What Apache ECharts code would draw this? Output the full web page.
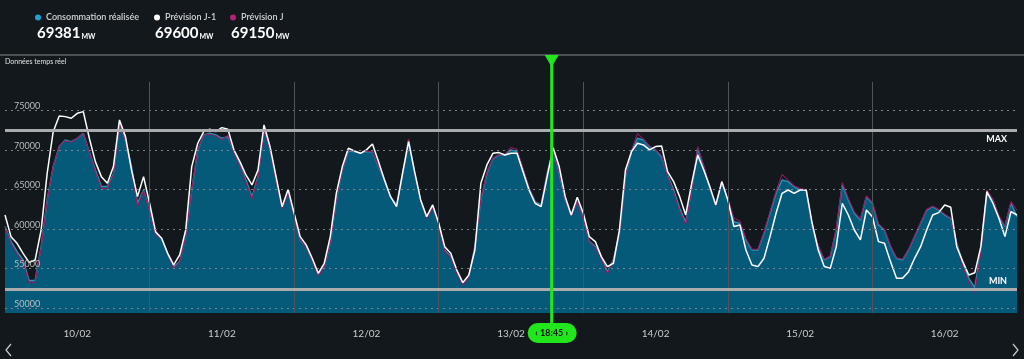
<!DOCTYPE html>
<html>
<head>
<meta charset="utf-8">
<script src="https://cdn.jsdelivr.net/npm/echarts@6/dist/echarts.min.js"></script>
<style>
html,body{margin:0;padding:0;background:#12181b;}
#c{width:1024px;height:359px;}
</style>
</head>
<body>
<div id="c"></div>
<script>
// ---- data (hourly, 10/02 00:00 -> 17/02 00:00) ----
const seriesNames = ['Consommation réalisée', 'Prévision J-1', 'Prévision J'];
const dayLabels = ['10/02', '11/02', '12/02', '13/02', '14/02', '15/02', '16/02'];
const gridValues = [50000, 55000, 60000, 65000, 70000, 75000];
const maxLevel = 72470;
const minLevel = 52400;
const cursorHour = 90.75;
const cursorLabel = '18:45';
const cursorValues = [69381, 69600, 69150];

const consumption = [
  60330, 58430, 57160, 56110, 53500, 53500, 57800, 63700, 67920, 70450, 71290, 71080, 71500, 72130, 69810, 67490, 65390, 65390, 67000, 73400, 71290, 67920, 63280, 64960,
  62430, 59480, 58850, 56950, 55200, 55900, 59060, 64960, 70030, 71920, 72130, 71920, 71500, 71710, 69810, 68130, 66230, 64120, 66650, 72550, 70240, 66230, 62850, 64750,
  61800, 58640, 57800, 56110, 54300, 55270, 58220, 63700, 67490, 69900, 69810, 69600, 69810, 69810, 67920, 66230, 64120, 63070, 67070, 71300, 67070, 63700, 61590, 62850,
  60750, 57370, 56530, 54630, 53160, 54000, 57800, 63700, 67070, 68970, 69390, 69390, 70030, 69810, 67490, 65180, 63490, 63070, 67070, 70030, 67070, 63700, 61800, 63490,
  61380, 58430, 57800, 56320, 54630, 56110, 59480, 66650, 69810, 71500, 71290, 70450, 70030, 69180, 66860, 64960, 62640, 60900, 64960, 70240, 67920, 65180, 63070, 66020,
  63700, 60960, 60750, 58640, 57370, 57370, 59480, 62010, 64540, 66230, 66020, 65390, 64960, 64960, 60330, 57800, 56110, 56530, 59900, 65600, 63700, 62010, 61170, 64120,
  63280, 60540, 59900, 57790, 56320, 56110, 57370, 59060, 60750, 62430, 62850, 62430, 61800, 61380, 58220, 55690, 53790, 52600, 57370, 64540, 63700, 61590, 60330, 63280,
  61590
];

const forecastJ1 = [
  61800, 59060, 58220, 56950, 55800, 56100, 59900, 67070, 72340, 74330, 74240, 74030, 74660, 74870, 71500, 68550, 66650, 65810, 67920, 73820, 71710, 67500, 64120, 66650,
  63280, 59690, 58850, 56950, 55480, 56740, 59900, 67920, 70870, 72340, 72640, 72340, 72850, 72640, 70030, 68550, 66860, 65600, 67490, 73190, 70450, 66650, 62850, 65050,
  62010, 59060, 58010, 56320, 54420, 55690, 59060, 64540, 67920, 70240, 69900, 69600, 70030, 70780, 68550, 66230, 64120, 62850, 67070, 71080, 67280, 63700, 61590, 63070,
  60750, 57790, 56950, 54840, 53240, 54210, 57370, 65810, 68130, 69600, 69690, 69390, 69600, 69600, 67280, 64960, 63280, 62850, 66650, 70300, 67920, 64120, 61800, 64040,
  62010, 59060, 58430, 56530, 55270, 55690, 59900, 67490, 69810, 70870, 70660, 70030, 70450, 70530, 67280, 66020, 64120, 61800, 65810, 69390, 67490, 65390, 63070, 66020,
  63700, 60330, 60540, 57370, 55480, 55270, 56320, 59060, 62010, 64540, 64960, 64540, 64960, 64960, 60750, 57370, 55270, 55050, 57790, 63280, 61800, 59900, 58640, 62430,
  61590, 58430, 58220, 55900, 53790, 53790, 54630, 56320, 57790, 59900, 61800, 62100, 63070, 62770, 57790, 55900, 54210, 54500, 57790, 64750, 63280, 61380, 59060, 62220,
  61800
];

const forecastJ = [
  60330, 58130, 56860, 55810, 53200, 53300, 57600, 63600, 67900, 70450, 71200, 71000, 71500, 72130, 69700, 67240, 65140, 65140, 66900, 73300, 71200, 67520, 62880, 64800,
  62300, 59300, 58800, 56950, 55000, 55800, 59060, 65000, 70100, 71920, 72000, 71800, 71300, 71900, 69700, 68000, 65900, 63820, 66500, 72300, 70100, 66100, 62600, 64600,
  61700, 58700, 57700, 56000, 54100, 55200, 58300, 63800, 67500, 70000, 69900, 69600, 69900, 69800, 68000, 66300, 64100, 62900, 67100, 71400, 67000, 63600, 61400, 62700,
  60600, 57200, 56400, 54400, 52950, 53900, 57700, 63800, 67200, 69000, 69400, 69500, 70330, 70100, 67700, 65200, 63400, 62900, 67000, 70000, 67200, 63800, 61700, 63500,
  61300, 58300, 57700, 56200, 54400, 56000, 59500, 66800, 70000, 72100, 71400, 70500, 70000, 69300, 66700, 64660, 62340, 60600, 65000, 70440, 68000, 65300, 63000, 66100,
  63900, 61460, 61000, 58800, 57470, 57470, 59600, 62200, 64800, 66930, 66200, 65500, 65160, 65000, 60500, 58000, 56200, 56600, 60100, 65900, 63900, 62200, 61300, 64200,
  63400, 60700, 60000, 57900, 56400, 56200, 57400, 59100, 60800, 62500, 62900, 62500, 61900, 61400, 58100, 55300, 53200, 52000, 57000, 64940, 63800, 61700, 60400, 63480,
  62400
];

const colors = { cons: '#1fa3d6', consArea: '#065a79', consEdge: '#2c90b1', j1: '#ffffff', j: '#8f1a62', green: '#22e61c' };
const FONT = 'Lato, "Open Sans", sans-serif';

const toXY = arr => arr.map((v, i) => [i, v]);

const chart = echarts.init(document.getElementById('c'), null, { renderer: 'canvas' });

const gridMarks = gridValues.map(v => ({
  yAxis: v,
  lineStyle: { color: '#7d8286', width: 1, type: [2, 4] },
  label: { show: true, position: 'insideStartTop', formatter: String(v), color: '#b9bdc0', fontSize: 9, fontFamily: FONT, distance: [9, 0] }
}));
const dayMarks = [1, 2, 3, 4, 5, 6].map(d => ({
  xAxis: d * 24,
  lineStyle: { color: '#4e5457', width: 1, type: 'solid' },
  label: { show: false }
}));
const levelMarks = [
  { yAxis: maxLevel, lineStyle: { color: '#a9abad', width: 3, type: 'solid' },
    label: { show: true, position: 'insideEndBottom', formatter: 'MAX', color: '#ffffff', fontWeight: 'bold', fontSize: 9, fontFamily: FONT, distance: [10, 4] } },
  { yAxis: minLevel, lineStyle: { color: '#a9abad', width: 3, type: 'solid' },
    label: { show: true, position: 'insideEndTop', formatter: 'MIN', color: '#ffffff', fontWeight: 'bold', fontSize: 9, fontFamily: FONT, distance: [10, 4] } }
];

const legendLefts = [35, 154, 230];
const valueLefts = [37, 155, 231];

chart.setOption({
  backgroundColor: '#12181b',
  animation: false,
  textStyle: { fontFamily: FONT },
  legend: seriesNames.map((n, i) => ({
    data: [n], left: legendLefts[i], top: 13, padding: 0, icon: 'circle', itemWidth: 6, itemHeight: 6,
    selectedMode: false,
    textStyle: { color: '#d2d5d7', fontSize: 9, fontWeight: 600, fontFamily: FONT }
  })),
  title: cursorValues.map((v, i) => ({
    left: valueLefts[i], top: 26, padding: 0,
    text: '{v|' + v + '}{u|MW}',
    textStyle: { rich: {
      v: { fontSize: 15, fontWeight: 'bold', color: '#ffffff', fontFamily: FONT },
      u: { fontSize: 7, fontWeight: 'bold', color: '#ffffff', fontFamily: FONT, verticalAlign: 'bottom', padding: [0, 0, 1, 1] }
    } }
  })),
  grid: { left: 5, right: 7, top: 82, bottom: 46 },
  xAxis: {
    type: 'value', min: 0, max: 168, interval: 12,
    axisLine: { show: false }, axisTick: { show: false }, splitLine: { show: false },
    axisLabel: {
      color: '#c9ccce', fontSize: 10, fontFamily: FONT, margin: 16,
      formatter: v => (v % 24 === 12 ? dayLabels[(v - 12) / 24] : '')
    }
  },
  yAxis: {
    type: 'value', min: 49400, max: 78620,
    axisLine: { show: false }, axisTick: { show: false }, splitLine: { show: false }, axisLabel: { show: false }
  },
  series: [
    {
      name: seriesNames[0], type: 'line', data: toXY(consumption), showSymbol: false, symbol: 'none',
      itemStyle: { color: colors.cons },
      lineStyle: { color: colors.consEdge, width: 1.5 },
      areaStyle: { color: colors.consArea, opacity: 1 },
      z: 2,
      markLine: { silent: true, symbol: 'none', animation: false, data: [...gridMarks, ...dayMarks, ...levelMarks] }
    },
    {
      name: seriesNames[2], type: 'line', data: toXY(forecastJ), showSymbol: false, symbol: 'none',
      itemStyle: { color: '#b3217a' }, lineStyle: { color: colors.j, width: 1.1 }, z: 3
    },
    {
      name: seriesNames[1], type: 'line', data: toXY(forecastJ1), showSymbol: false, symbol: 'none',
      itemStyle: { color: colors.j1 }, lineStyle: { color: colors.j1, width: 1.5 }, z: 4
    }
  ]
});

const px = chart.convertToPixel({ xAxisIndex: 0 }, cursorHour);
chart.setOption({
  graphic: [
    { type: 'line', shape: { x1: 0, y1: 55, x2: 1024, y2: 55 }, style: { stroke: '#4b5053', lineWidth: 2 }, z: 10 },
    { type: 'text', left: 5, top: 58, style: { text: 'Données temps réel', fill: '#e0e2e3', fontSize: 7, fontFamily: FONT }, z: 10 },
    { type: 'line', shape: { x1: px, y1: 56, x2: px, y2: 330 }, style: { stroke: colors.green, lineWidth: 3 }, z: 20 },
    { type: 'polygon', shape: { points: [[px - 7, 55], [px + 7, 55], [px, 67]] }, style: { fill: colors.green }, z: 21 },
    { type: 'rect', shape: { x: px - 24, y: 323, width: 49, height: 20, r: 10 }, style: { fill: colors.green }, z: 21 },
    { type: 'text', x: px, y: 333, style: { text: '‹ ' + cursorLabel + ' ›', fill: '#0b0f0d', fontSize: 9, fontWeight: 'bold', fontFamily: FONT, align: 'center', verticalAlign: 'middle' }, z: 22 },
    { type: 'polyline', shape: { points: [[11, 344], [6, 350], [11, 356]] }, style: { stroke: '#c9ccce', lineWidth: 1.2, fill: null }, z: 10 },
    { type: 'polyline', shape: { points: [[1013, 344], [1018, 350], [1013, 356]] }, style: { stroke: '#c9ccce', lineWidth: 1.2, fill: null }, z: 10 }
  ]
});
</script>
</body>
</html>
